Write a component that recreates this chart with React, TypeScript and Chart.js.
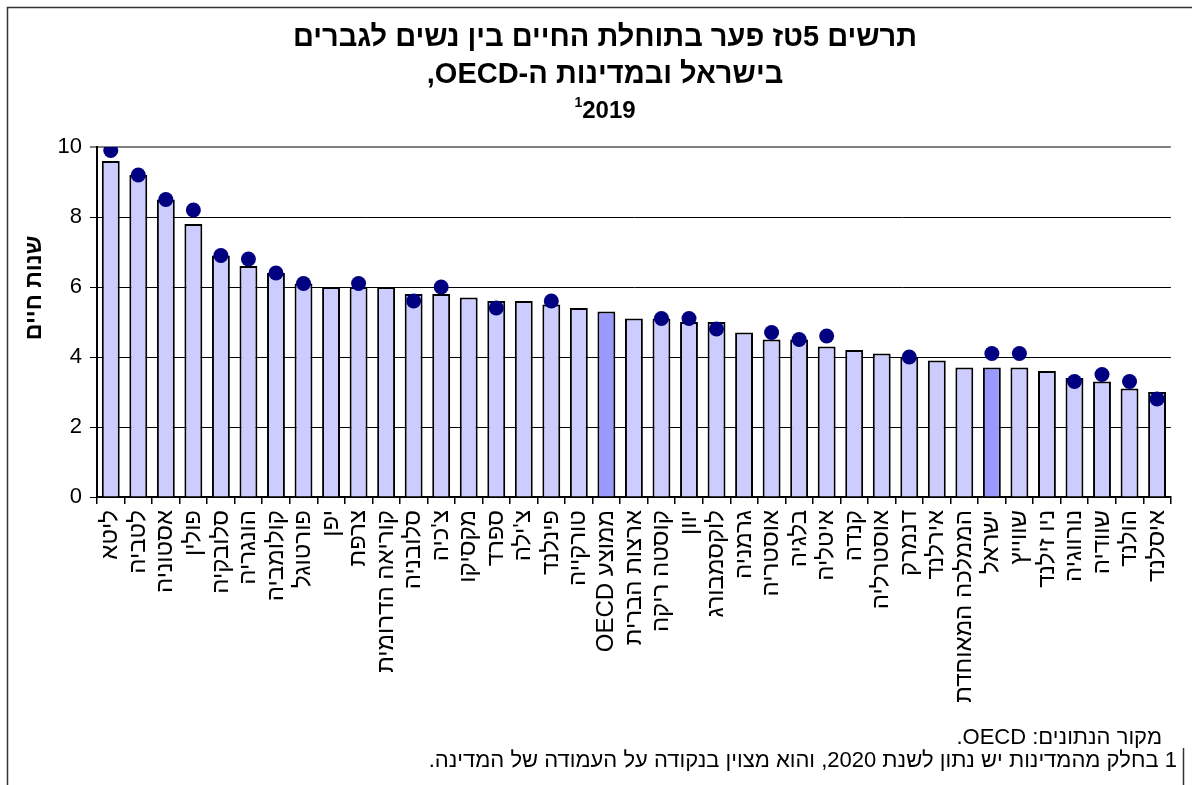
import React, { useEffect, useRef } from "react";
import { Chart, registerables } from "chart.js";

Chart.register(...registerables);

const categories: string[] = [
  "ליטא", "לטביה", "אסטוניה", "פולין", "סלובקיה", "הונגריה", "קולומביה", "פורטוגל",
  "יפן", "צרפת", "קוריאה הדרומית", "סלובניה", "צ'כיה", "מקסיקו", "ספרד", "צ'ילה",
  "פינלנד", "טורקייה", "ממוצע OECD", "ארצות הברית", "קוסטה ריקה", "יוון", "לוקסמבורג",
  "גרמניה", "אוסטריה", "בלגיה", "איטליה", "קנדה", "אוסטרליה", "דנמרק", "אירלנד",
  "הממלכה המאוחדת", "ישראל", "שווייץ", "ניו זילנד", "נורווגיה", "שוודיה", "הולנד", "איסלנד",
];

const gap2019: number[] = [
  9.6, 9.2, 8.5, 7.8, 6.9, 6.6, 6.4, 6.1, 6.0, 6.0, 6.0, 5.8, 5.8, 5.7, 5.6, 5.6,
  5.5, 5.4, 5.3, 5.1, 5.1, 5.0, 5.0, 4.7, 4.5, 4.5, 4.3, 4.2, 4.1, 4.0, 3.9,
  3.7, 3.7, 3.7, 3.6, 3.4, 3.3, 3.1, 3.0,
];

const gap2020: (number | null)[] = [
  9.9, 9.2, 8.5, 8.2, 6.9, 6.8, 6.4, 6.1, null, 6.1, null, 5.6, 6.0, null, 5.4, null,
  5.6, null, null, null, 5.1, 5.1, 4.8, null, 4.7, 4.5, 4.6, null, null, 4.0, null,
  null, 4.1, 4.1, null, 3.3, 3.5, 3.3, 2.8,
];

const highlighted: string[] = ["ממוצע OECD", "ישראל"];

const yTicks: number[] = [0, 2, 4, 6, 8, 10];

const titleLines: string[] = [
  "תרשים 5טז פער בתוחלת החיים בין נשים לגברים",
  "בישראל ובמדינות ה-OECD,",
];
const titleYear = "2019";
const titleSup = "1";
const yAxisTitle = "שנות חיים";
const footnotes: string[] = [
  "מקור הנתונים: OECD.",
  "1 בחלק מהמדינות יש נתון לשנת 2020, והוא מצוין בנקודה על העמודה של המדינה.",
];

const FONT = 'Arial, "Liberation Sans", "DejaVu Sans", sans-serif';

const decorPlugin = {
  id: "decor",
  afterDraw(chart: any) {
    const ctx = chart.ctx as CanvasRenderingContext2D;
    ctx.save();
    // frame
    ctx.strokeStyle = "#333";
    ctx.lineWidth = 1.5;
    ctx.beginPath();
    ctx.moveTo(7.5, 785);
    ctx.lineTo(7.5, 7.5);
    ctx.lineTo(1192, 7.5);
    ctx.stroke();
    ctx.beginPath();
    ctx.moveTo(1183.5, 748);
    ctx.lineTo(1183.5, 785);
    ctx.stroke();

    ctx.fillStyle = "#000";
    (ctx as any).direction = "rtl";
    ctx.textBaseline = "middle";
    ctx.textAlign = "center";
    const cx = 605;
    ctx.font = `bold 29px ${FONT}`;
    ctx.fillText(titleLines[0], cx, 38);
    ctx.fillText(titleLines[1], cx, 75);
    // year with superscript on the left
    ctx.font = `bold 24px ${FONT}`;
    const wYear = ctx.measureText(titleYear).width;
    ctx.font = `bold 14px ${FONT}`;
    const wSup = ctx.measureText(titleSup).width;
    const start = cx - (wYear + wSup) / 2;
    ctx.textAlign = "left";
    ctx.fillText(titleSup, start, 103);
    ctx.font = `bold 24px ${FONT}`;
    ctx.fillText(titleYear, start + wSup, 111);

    // y axis title
    ctx.save();
    ctx.translate(35, 288);
    ctx.rotate(-Math.PI / 2);
    ctx.textAlign = "center";
    ctx.font = `bold 23px ${FONT}`;
    ctx.fillText(yAxisTitle, 0, 0);
    ctx.restore();

    // footnotes
    ctx.textAlign = "right";
    ctx.font = `22px ${FONT}`;
    ctx.fillText(footnotes[0], 1162, 738);
    ctx.fillText(footnotes[1], 1177, 761);
    ctx.restore();
  },
};

export default function App() {
  const canvasRef = useRef<HTMLCanvasElement | null>(null);

  useEffect(() => {
    document.body.style.margin = "0";
    const canvas = canvasRef.current;
    if (!canvas) return;
    const chart = new Chart(canvas, {
      type: "bar",
      data: {
        labels: categories,
        datasets: [
          {
            type: "line",
            label: "2020",
            data: gap2020,
            showLine: false,
            pointRadius: 7.5,
            pointHoverRadius: 7.5,
            pointBackgroundColor: "#000080",
            pointBorderColor: "#000080",
            pointBorderWidth: 0,
            backgroundColor: "#000080",
            borderColor: "#000080",
            order: 0,
          } as any,
          {
            type: "bar",
            label: "2019",
            data: gap2019,
            backgroundColor: categories.map((c) => (highlighted.includes(c) ? "#9999FF" : "#CCCCFF")),
            borderColor: "#000",
            borderWidth: 2,
            barPercentage: 0.65,
            categoryPercentage: 1.0,
            order: 1,
          },
        ],
      },
      options: {
        animation: false,
        responsive: false,
        maintainAspectRatio: false,
        layout: { padding: { top: 147, left: 0, right: 10, bottom: 0 } },
        plugins: {
          legend: { display: false },
          tooltip: { enabled: false },
          title: { display: false },
        },
        scales: {
          x: {
            afterFit: (s: any) => {
              s.height = 288;
            },
            border: { display: true, color: "#000", width: 2 },
            grid: {
              display: true,
              drawOnChartArea: false,
              drawTicks: true,
              tickLength: 7,
              color: "#000",
              lineWidth: 1.5,
              offset: true,
            },
            ticks: {
              autoSkip: false,
              minRotation: 90,
              maxRotation: 90,
              padding: 6,
              color: "#000",
              font: { family: FONT, size: 24 },
            },
          },
          y: {
            min: 0,
            max: 10,
            afterFit: (s: any) => {
              s.width = 97;
            },
            afterBuildTicks: (s: any) => {
              s.ticks = yTicks.map((v) => ({ value: v }));
            },
            border: { display: true, color: "#000", width: 2 },
            grid: {
              drawTicks: true,
              tickLength: 7,
              color: (c: any) => (c.tick && c.tick.value === 10 ? "#808080" : "#000"),
              lineWidth: (c: any) => (c.tick && c.tick.value === 10 ? 2 : 1),
            },
            ticks: {
              padding: 8,
              color: "#000",
              font: { family: FONT, size: 22 },
            },
          },
        },
      },
      plugins: [decorPlugin],
    });
    return () => chart.destroy();
  }, []);

  return (
    <div style={{ position: "fixed", left: 0, top: 0, width: 1192, height: 785, background: "#fff" }}>
      <canvas ref={canvasRef} width={1192} height={785} dir="rtl" style={{ direction: "rtl", display: "block" }} />
    </div>
  );
}
